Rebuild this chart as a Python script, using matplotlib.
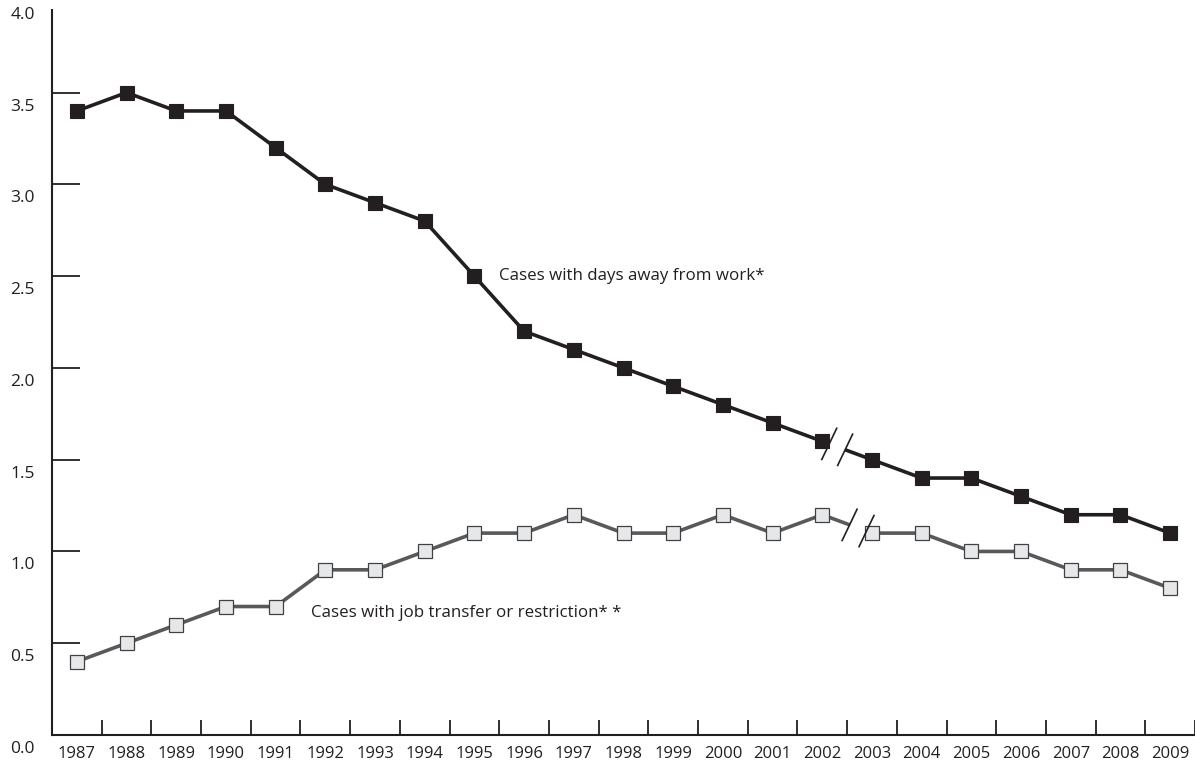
import numpy as np
import matplotlib
matplotlib.use('Agg')
import matplotlib.pyplot as plt
from matplotlib.transforms import offset_copy

# --- data ---
years = list(range(1987, 2010))
days_away = [3.4, 3.5, 3.4, 3.4, 3.2, 3.0, 2.9, 2.8, 2.5, 2.2, 2.1, 2.0,
             1.9, 1.8, 1.7, 1.6, 1.5, 1.4, 1.4, 1.3, 1.2, 1.2, 1.1]
job_transfer = [0.4, 0.5, 0.6, 0.7, 0.7, 0.9, 0.9, 1.0, 1.1, 1.1, 1.2, 1.1,
                1.1, 1.2, 1.1, 1.2, 1.1, 1.1, 1.0, 1.0, 0.9, 0.9, 0.8]
ytick_labels = ['0.0', '0.5', '1.0', '1.5', '2.0', '2.5', '3.0', '3.5', '4.0']
label_days = 'Cases with days away from work*'
label_job = 'Cases with job transfer or restriction* *'

DARK = '#231f20'
GREY = '#58595b'
plt.rcParams['font.family'] = ['Open Sans', 'DejaVu Sans']

fig = plt.figure(figsize=(11.95, 7.65), dpi=100)
ax = fig.add_axes([52 / 1195, 30 / 765, (1195 - 52) / 1195, (735 - 10) / 765])
ax.set_xlim(years[0] - 0.5, years[-1] + 0.5)
ax.set_ylim(0, 3.95)

x = np.array(years, dtype=float)


def draw_series(vals, gap, color, lw, mfc, mec, mew):
    """Draw a series with a break (two slashes) between 2002 and 2003."""
    vals = np.array(vals)
    i = years.index(2002)
    # solid parts
    ax.plot(x[:i + 1], vals[:i + 1], color=color, lw=lw, zorder=2,
            solid_capstyle='butt')
    ax.plot(x[i + 1:], vals[i + 1:], color=color, lw=lw, zorder=2,
            solid_capstyle='butt')
    # stubs to the break slashes
    g1, g2 = x[i] + gap[0], x[i] + gap[1]
    ax.plot([x[i], g1], [vals[i], np.interp(g1, x, vals)], color=color, lw=lw,
            zorder=2, solid_capstyle='butt')
    ax.plot([g2, x[i + 1]], [np.interp(g2, x, vals), vals[i + 1]], color=color,
            lw=lw, zorder=2, solid_capstyle='butt')
    for g in (g1, g2):
        yc = np.interp(g, x, vals)
        ax.plot([g - 0.15, g + 0.15], [yc - 0.085, yc + 0.085], color=DARK,
                lw=1.2, zorder=4)
    ax.plot(x, vals, ls='none', marker='s', ms=10, mfc=mfc, mec=mec,
            mew=mew, zorder=3)


draw_series(days_away, (0.14, 0.46), DARK, 2.6, DARK, DARK, 0.8)
draw_series(job_transfer, (0.55, 0.89), GREY, 2.6, '#e6e7e8', '#414042', 0.9)

ax.text(1995.5, 2.5, label_days, fontsize=12.2, color=DARK, va='center')
ax.text(1991.72, 0.665, label_job, fontsize=12.2, color=DARK, va='center')

# axes styling
for s in ('top', 'right'):
    ax.spines[s].set_visible(False)
for s in ('left', 'bottom'):
    ax.spines[s].set_color(DARK)
    ax.spines[s].set_linewidth(1.5)

ax.set_xticks(np.arange(years[0] + 0.5, years[-1] + 1, 1.0))
ax.set_xticklabels([])
ax.tick_params(axis='x', direction='in', length=11, width=1.3, color=DARK)
ax.set_yticks(np.arange(0.5, 3.6, 0.5))
ax.set_yticklabels([])
ax.tick_params(axis='y', direction='in', length=20, width=1.3, color=DARK)

for yr in years:
    ax.text(yr, 0, str(yr), transform=offset_copy(ax.transData, fig, 0, -19,
            units='dots'), ha='center', va='center', fontsize=12,
            color=DARK, clip_on=False)

for i, lab in enumerate(ytick_labels):
    ax.text(0, i * 0.5, lab, transform=offset_copy(ax.get_yaxis_transform(),
            fig, -17, -14, units='dots'), ha='right', va='center',
            fontsize=12.5, color=DARK, clip_on=False)

fig.savefig('out.png', dpi=100)
